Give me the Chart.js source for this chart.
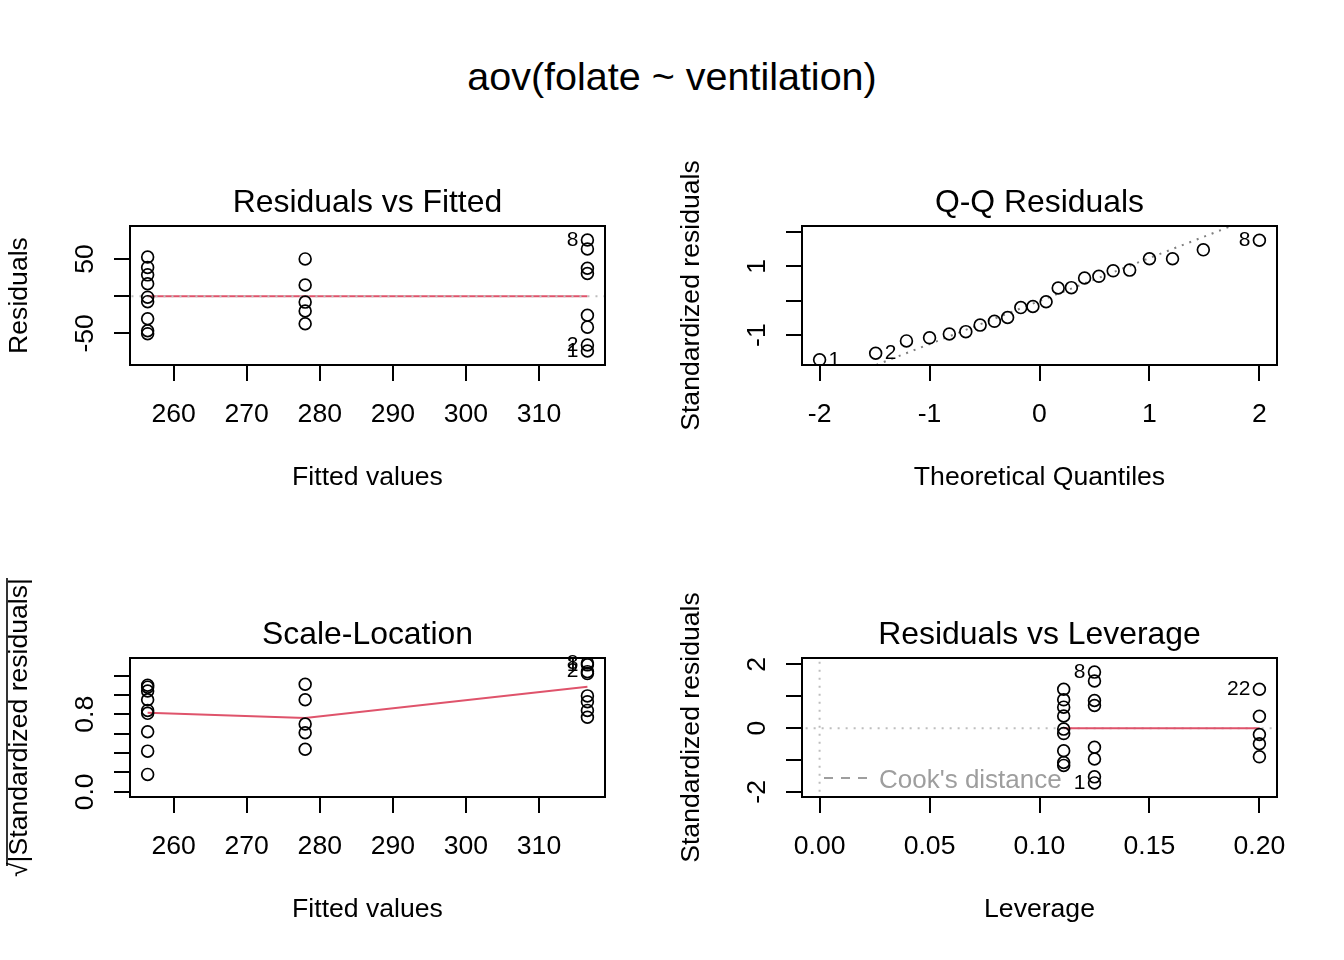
<!DOCTYPE html>
<html>
<head>
<meta charset="utf-8">
<script src="https://cdn.jsdelivr.net/npm/chart.js@4.4.1/dist/chart.umd.min.js"></script>
<style>
  html, body { margin: 0; padding: 0; background: #fff; }
  #page { position: relative; width: 1344px; height: 960px; overflow: hidden; }
  #mainTitle { position: absolute; left: 0; top: 52px; width: 1344px; text-align: center;
               font: 39.5px 'Liberation Sans', Arial, sans-serif; line-height: 48px; color: #000; }
  canvas { position: absolute; }
</style>
</head>
<body>
<div id="page">
  <div id="mainTitle">aov(folate ~ ventilation)</div>
  <canvas id="rvf" width="672" height="500" style="left:0;top:0"></canvas>
  <canvas id="qq" width="672" height="500" style="left:672px;top:0"></canvas>
  <canvas id="sl" width="672" height="500" style="left:0;top:432px"></canvas>
  <canvas id="lev" width="672" height="500" style="left:672px;top:432px"></canvas>
</div>
<script>
Chart.defaults.font.family = "'Liberation Sans', Arial, Helvetica, sans-serif";
Chart.defaults.color = '#000';

const obsFitted = [316.625, 316.625, 316.625, 316.625, 316.625, 316.625, 316.625, 316.625,
                   256.444, 256.444, 256.444, 256.444, 256.444, 256.444, 256.444, 256.444, 256.444,
                   278, 278, 278, 278, 278];
const obsResiduals = [-73.6, -65.6, -41.6, -25.6, 30.4, 37.4, 63.4, 75.4,
                      -50.4, -46.4, -30.4, -7.4, -1.4, 16.6, 28.6, 38.6, 52.6,
                      -37, -20, -8, 15, 50];
const obsStdResiduals = [-1.72, -1.53, -0.97, -0.60, 0.71, 0.87, 1.48, 1.76,
                         -1.17, -1.08, -0.71, -0.17, -0.03, 0.38, 0.66, 0.89, 1.22,
                         -0.90, -0.49, -0.20, 0.37, 1.22];
const obsSqrtAbsStd = [1.31, 1.24, 0.99, 0.77, 0.84, 0.93, 1.22, 1.33,
                       1.08, 1.04, 0.84, 0.42, 0.18, 0.62, 0.81, 0.95, 1.10,
                       0.95, 0.70, 0.44, 0.61, 1.11];
const obsLeverage = [0.125, 0.125, 0.125, 0.125, 0.125, 0.125, 0.125, 0.125,
                     0.111, 0.111, 0.111, 0.111, 0.111, 0.111, 0.111, 0.111, 0.111,
                     0.2, 0.2, 0.2, 0.2, 0.2];

// Q-Q panel (sorted)
const qqTheoretical = [-2.00, -1.49, -1.21, -1.00, -0.82, -0.67, -0.54, -0.41, -0.29, -0.17, -0.06,
                       0.06, 0.17, 0.29, 0.41, 0.54, 0.67, 0.82, 1.00, 1.21, 1.49, 2.00];
const qqSample = [-1.72, -1.53, -1.17, -1.08, -0.97, -0.90, -0.71, -0.60, -0.49, -0.20, -0.17,
                  -0.03, 0.37, 0.38, 0.66, 0.71, 0.87, 0.89, 1.22, 1.22, 1.48, 1.76];
const qqLineX = [-2.5, 2.5];
const qqLineY = [-3.14, 3.12];

// smoothers and reference lines
const groupFitted = [256.444, 278, 316.625];
const rvfSmoothY = [0, 0, 0];
const slSmoothY = [0.815, 0.763, 1.084];
const levSmoothX = [0.111, 0.125, 0.2];
const levSmoothY = [0, 0, 0];
const fittedRefX = [240, 330];
const levRefX = [-0.05, 0.25];
const levRefVY = [-3, 3];

// axes
const fittedTicks = [260, 270, 280, 290, 300, 310];
const fittedTickLabels = ['260', '270', '280', '290', '300', '310'];
const qqXTicks = [-2, -1, 0, 1, 2];
const qqXTickLabels = ['-2', '-1', '0', '1', '2'];
const levXTicks = [0, 0.05, 0.1, 0.15, 0.2];
const levXTickLabels = ['0.00', '0.05', '0.10', '0.15', '0.20'];
const rvfYTicks = [-50, 0, 50];
const rvfYLabelAt = [-50, 50];
const rvfYLabels = ['-50', '50'];
const qqYTicks = [-1, 0, 1, 2];
const qqYLabelAt = [-1, 1];
const qqYLabels = ['-1', '1'];
const slYTicks = [0, 0.2, 0.4, 0.6, 0.8, 1.0, 1.2];
const slYLabelAt = [0, 0.8];
const slYLabels = ['0.0', '0.8'];
const levYTicks = [-2, -1, 0, 1, 2];
const levYLabelAt = [-2, 0, 2];
const levYLabels = ['-2', '0', '2'];

// flagged observations (index into the plotted points) and label side
const rvfIdIndex = [7, 1, 0];
const rvfIdText = ['8', '2', '1'];
const qqIdIndex = [0, 1, 21];
const qqIdText = ['1', '2', '8'];
const qqIdSide = ['right', 'right', 'left'];
const slIdIndex = [7, 0, 1];
const slIdText = ['8', '1', '2'];
const levIdIndex = [7, 21, 0];
const levIdText = ['8', '22', '1'];

const RED = '#DF536B';
const GRAY = '#BEBEBE';
const FONT = "'Liberation Sans', Arial, Helvetica, sans-serif";

function xy(xs, ys) {
    return xs.map((x, i) => ({ x: x, y: ys[i] }));
}

function pointSet(xs, ys) {
    return {
        data: xy(xs, ys),
        pointStyle: 'circle',
        pointRadius: 5.9,
        pointBorderWidth: 1.7,
        pointBorderColor: '#000',
        pointBackgroundColor: 'rgba(0,0,0,0)',
        showLine: false
    };
}

function lineSet(xs, ys, color, dash) {
    return {
        data: xy(xs, ys),
        showLine: true,
        pointRadius: 0,
        borderColor: color,
        borderWidth: 2,
        borderDash: dash || [],
        clip: 0
    };
}

function axis(horiz, a) {
    return {
        type: 'linear',
        position: horiz ? 'bottom' : 'left',
        min: a.min,
        max: a.max,
        afterBuildTicks: s => { s.ticks = a.ticks.map(v => ({ value: v })); },
        afterFit: s => { if (horiz) s.height = 135; else s.width = 130; },
        grid: { drawOnChartArea: false, drawTicks: true, tickLength: 16, color: '#000', lineWidth: 2 },
        border: { display: false },
        ticks: horiz
            ? { autoSkip: false, maxRotation: 0, minRotation: 0, padding: 18,
                font: { size: 26.6 }, color: '#000', callback: (v, i) => a.labels[i] }
            : { display: false },
        title: { display: true, text: a.title, font: { size: 26.6 }, color: '#000',
                 padding: horiz ? { top: 0, bottom: 6 } : { top: 4, bottom: 0 } }
    };
}

// R-style decorations: box, panel title, rotated y labels, id labels
const rPanel = {
    id: 'rPanel',
    afterDraw(chart, args, o) {
        const ctx = chart.ctx;
        const a = chart.chartArea;
        const ys = chart.scales.y;
        ctx.save();
        ctx.strokeStyle = '#000';
        ctx.lineWidth = 2;
        ctx.setLineDash([]);
        ctx.strokeRect(a.left, a.top, a.right - a.left, a.bottom - a.top);

        ctx.fillStyle = '#000';
        ctx.textAlign = 'center';
        ctx.textBaseline = 'middle';
        ctx.font = '31.9px ' + FONT;
        ctx.fillText(o.title, (a.left + a.right) / 2, a.top - 23);

        ctx.font = '26.6px ' + FONT;
        o.yAt.forEach((v, i) => {
            ctx.save();
            ctx.translate(a.left - 44, ys.getPixelForValue(v));
            ctx.rotate(-Math.PI / 2);
            ctx.fillText(o.yText[i], 0, 0);
            ctx.restore();
        });

        // id labels next to the flagged points
        const pts = chart.getDatasetMeta(0).data;
        ctx.font = '21px ' + FONT;
        o.idIndex.forEach((k, i) => {
            const p = pts[k];
            const side = o.idSide ? o.idSide[i] : 'left';
            ctx.textAlign = side === 'left' ? 'right' : 'left';
            ctx.fillText(o.idText[i], p.x + (side === 'left' ? -9 : 9), p.y);
        });

        // overbar of the square root in the y title
        if (o.sqrtBar) {
            ctx.font = '26.6px ' + FONT;
            const w = ctx.measureText(o.sqrtBar).width;
            const rw = ctx.measureText('\u221A').width;
            const cy = (a.top + a.bottom) / 2;
            ctx.lineWidth = 1.6;
            ctx.beginPath();
            ctx.moveTo(7, cy + w / 2 - rw * 0.75);
            ctx.lineTo(7, cy - w / 2);
            ctx.stroke();
        }

        if (o.cook) {
            ctx.strokeStyle = '#9E9E9E';
            ctx.fillStyle = '#9E9E9E';
            ctx.lineWidth = 2;
            ctx.setLineDash([9, 8]);
            ctx.beginPath();
            ctx.moveTo(a.left + 22, a.bottom - 19);
            ctx.lineTo(a.left + 66, a.bottom - 19);
            ctx.stroke();
            ctx.setLineDash([]);
            ctx.font = '26px ' + FONT;
            ctx.textAlign = 'left';
            ctx.fillText("Cook's distance", a.left + 77, a.bottom - 16);
        }
        ctx.restore();
    }
};

function panel(id, datasets, xAxis, yAxis, deco) {
    return new Chart(document.getElementById(id), {
        type: 'scatter',
        data: { datasets: datasets },
        options: {
            responsive: false,
            animation: false,
            events: [],
            layout: { autoPadding: false, padding: { top: 226, right: 67, bottom: 0, left: 0 } },
            scales: { x: axis(true, xAxis), y: axis(false, yAxis) },
            plugins: { legend: { display: false }, tooltip: { enabled: false }, rPanel: deco }
        },
        plugins: [rPanel]
    });
}

// Residuals vs Fitted
panel('rvf',
    [pointSet(obsFitted, obsResiduals),
     lineSet(fittedRefX, [0, 0], GRAY, [2, 6]),
     lineSet(groupFitted, rvfSmoothY, RED)],
    { min: 254.03, max: 319.03, ticks: fittedTicks, labels: fittedTickLabels, title: 'Fitted values' },
    { min: -92.46, max: 94.21, ticks: rvfYTicks, title: 'Residuals' },
    { title: 'Residuals vs Fitted', yAt: rvfYLabelAt, yText: rvfYLabels, idIndex: rvfIdIndex, idText: rvfIdText });

// Q-Q Residuals
panel('qq',
    [pointSet(qqTheoretical, qqSample),
     lineSet(qqLineX, qqLineY, '#7F7F7F', [2, 6])],
    { min: -2.16, max: 2.16, ticks: qqXTicks, labels: qqXTickLabels, title: 'Theoretical Quantiles' },
    { min: -1.871, max: 2.174, ticks: qqYTicks, title: 'Standardized residuals' },
    { title: 'Q-Q Residuals', yAt: qqYLabelAt, yText: qqYLabels, idIndex: qqIdIndex, idText: qqIdText, idSide: qqIdSide });

// Scale-Location
panel('sl',
    [pointSet(obsFitted, obsSqrtAbsStd),
     lineSet(groupFitted, slSmoothY, RED)],
    { min: 254.03, max: 319.03, ticks: fittedTicks, labels: fittedTickLabels, title: 'Fitted values' },
    { min: -0.0531, max: 1.3807, ticks: slYTicks, title: '\u221A|Standardized residuals|' },
    { title: 'Scale-Location', yAt: slYLabelAt, yText: slYLabels, idIndex: slIdIndex, idText: slIdText,
      sqrtBar: '\u221A|Standardized residuals|' });

// Residuals vs Leverage
panel('lev',
    [pointSet(obsLeverage, obsStdResiduals),
     lineSet(levSmoothX, levSmoothY, RED),
     lineSet(levRefX, [0, 0], GRAY, [2, 6]),
     lineSet([0, 0], levRefVY, GRAY, [2, 6])],
    { min: -0.008, max: 0.208, ticks: levXTicks, labels: levXTickLabels, title: 'Leverage' },
    { min: -2.162, max: 2.203, ticks: levYTicks, title: 'Standardized residuals' },
    { title: 'Residuals vs Leverage', yAt: levYLabelAt, yText: levYLabels, idIndex: levIdIndex, idText: levIdText,
      cook: true });
</script>
</body>
</html>
